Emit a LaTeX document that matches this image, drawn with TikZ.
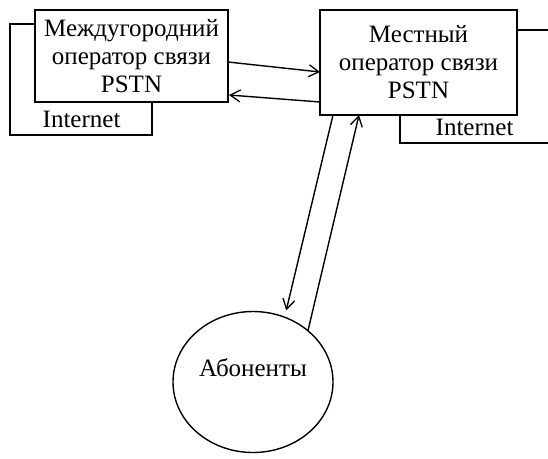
\documentclass[tikz,border=0pt]{standalone}
\usepackage{fontspec}
\setmainfont{Liberation Serif}
\usetikzlibrary{arrows.meta,shapes.geometric,calc}
\begin{document}
\begin{tikzpicture}[x=1pt,y=-1pt,
  line width=1.4pt,
  txt/.style={font=\fontsize{25}{28}\selectfont},
  box/.style={txt,draw,fill=white,align=center,inner sep=0pt,outer sep=0pt},
  lbl/.style={txt,inner sep=0pt},
  link/.style={-{Straight Barb[length=10pt,width=12pt,line width=1.3pt]}}
]
\useasboundingbox (0,0) rectangle (548,458);
\clip (0,0) rectangle (548,458);
% Internet frames lying behind the operator boxes
\draw (10,24) rectangle (152,135);
\draw (400,30) rectangle (560,143);
% operators
\node[box,minimum width=193pt,minimum height=92pt] (L) at (131.5,56)
  {Междугородний\\оператор связи\\PSTN};
\node[box,minimum width=197pt,minimum height=105pt] (R) at (418.5,62.5)
  {Местный\\оператор связи\\PSTN};
\node[lbl,anchor=west] (LI) at (42,119) {Internet};
\node[lbl,anchor=west] (RI) at (435,127) {Internet};
% subscribers
\node[draw,ellipse,minimum width=160pt,minimum height=141pt,inner sep=0pt,outer sep=0pt] (A) at (253,382) {};
\node[lbl] (AT) at ($(A.center)+(0,-14)$) {Абоненты};
% links
\draw[link] ($(L.north east)+(0,52)$) -- ($(R.north west)+(0,62)$);
\draw[link] ($(R.north west)+(0,92)$) -- ($(L.north east)+(1,85)$);
\draw[link,shorten >=7pt] ($(R.south west)+(13,0)$) -- (A.64);
\draw[link] (A.43) -- ($(R.south west)+(39,0)$);
\end{tikzpicture}
\end{document}
